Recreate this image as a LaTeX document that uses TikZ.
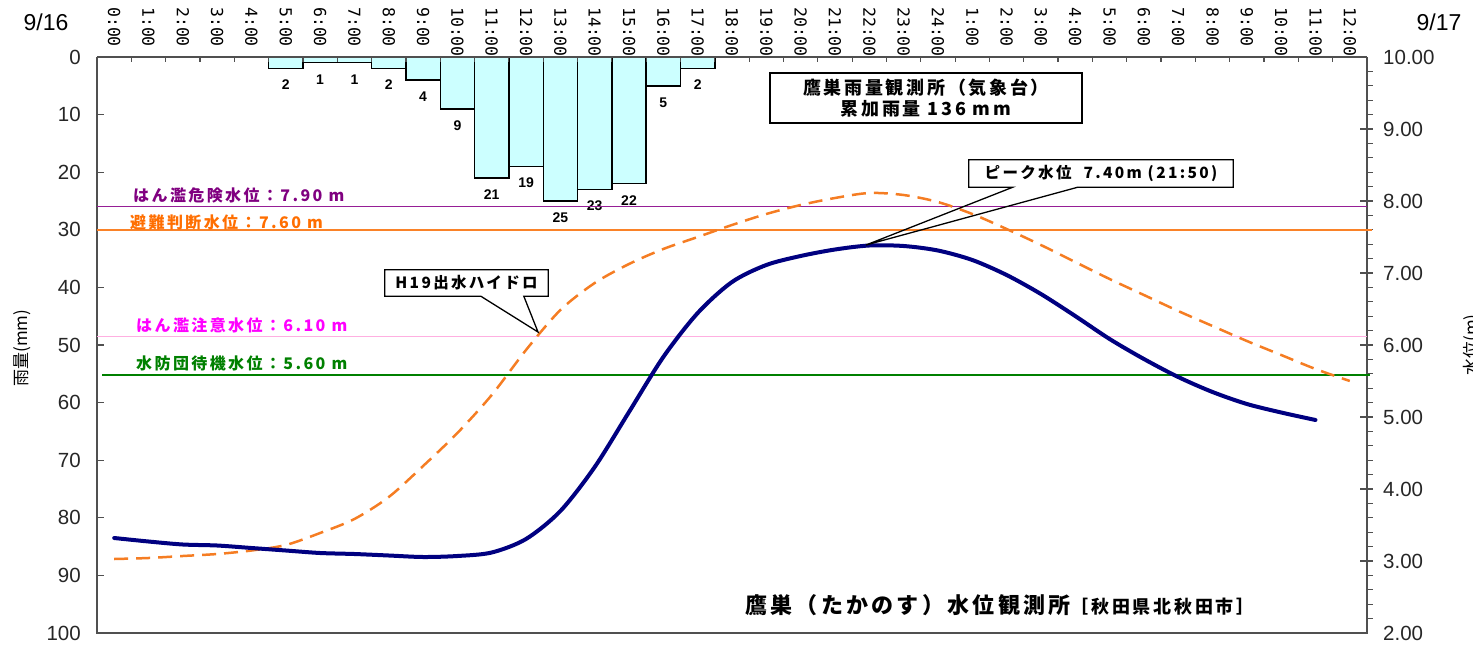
\documentclass[tikz,border=0pt]{standalone}
\usepackage{fontspec}
\setmainfont{Liberation Sans}
\newfontfamily\jp{Noto Sans CJK JP}[LetterSpace=15]
\newfontfamily\jpn{Noto Sans CJK JP}
\newfontfamily\hourfont{DejaVu Sans Mono}
\usetikzlibrary{calc}
\definecolor{navyline}{RGB}{0,0,128}
\definecolor{hydro}{RGB}{245,125,35}
\definecolor{barfill}{RGB}{204,255,255}
\definecolor{axisgray}{RGB}{80,80,80}
\definecolor{dangerline}{RGB}{150,30,150}
\definecolor{dangertext}{RGB}{128,0,128}
\definecolor{evacline}{RGB}{250,130,40}
\definecolor{evactext}{RGB}{255,110,0}
\definecolor{cautline}{RGB}{255,175,225}
\definecolor{cauttext}{RGB}{255,0,255}
\definecolor{standc}{RGB}{0,128,0}
\begin{document}
\begin{tikzpicture}[x=1pt,y=-1pt,
  axisline/.style={draw=axisgray, line width=1.4pt},
  tick/.style={draw=axisgray, line width=1.2pt},
  bar/.style={draw=black, line width=1.4pt, fill=barfill},
  barlbl/.style={font=\fontsize{14}{14}\selectfont\bfseries, inner sep=0},
  hourlbl/.style={font=\hourfont\fontsize{16.5}{17}\selectfont, rotate=-90, anchor=west, inner sep=0},
  numlbl/.style={font=\fontsize{20.5}{20.5}\selectfont, inner sep=0, text=black!85},
  lvlline/.style={line width=1.8pt},
  lvllbl/.style={font=\jp\bfseries\fontsize{16}{16}\selectfont, anchor=west, inner sep=0},
  calltext/.style={font=\jp\bfseries\fontsize{15.5}{15.5}\selectfont, inner sep=0},
  callout/.style={draw=black, line width=1.3pt, line join=miter},
  levelcurve/.style={draw=navyline, line width=4pt, line cap=round, line join=round},
  hydrocurve/.style={draw=hydro, line width=2.5pt, dash pattern=on 14pt off 8pt}
]
\useasboundingbox (0,0) rectangle (1473,645);

% date labels
\node[font=\fontsize{23}{23}\selectfont, inner sep=0] (d1) at (46,22) {9/16};
\node[font=\fontsize{23}{23}\selectfont, inner sep=0] (d2) at (1439,22) {9/17};

% hour labels
\foreach \i in {0,...,36} {
  \pgfmathtruncatemacro\h{\i>24 ? \i-24 : \i}
  \node[hourlbl] (h\i) at ({97+34.324*(\i+0.5)},7) {\h:00};
}

% bars
\foreach \i/\v in {5/2,6/1,7/1,8/2,9/4,10/9,11/21,12/19,13/25,14/23,15/22,16/5,17/2} {
  \draw[bar] ({97+34.324*\i},57) rectangle ({97+34.324*(\i+1)},{57+5.76*\v});
  \node[barlbl] (b\i) at ({97+34.324*(\i+0.5)},{57+5.76*\v+16.5}) {\v};
}

% axes
\draw[axisline] (97,57) -- (1367,57);
\draw[axisline] (97,57) -- (97,633) -- (1367,633) -- (1367,57);
\foreach \i in {1,...,36} \draw[tick] ({97+34.324*\i},57) -- ({97+34.324*\i},62);
\foreach \v in {10,20,...,90} \draw[tick] (97,{57+5.76*\v}) -- (104,{57+5.76*\v});
\foreach \v in {0,10,...,100} \node[numlbl, anchor=east] (ly\v) at (81,{57+5.76*\v}) {\v};
\foreach \v in {3,...,9} \draw[tick] (1360,{57+72*(10-\v)}) -- (1373,{57+72*(10-\v)});
\foreach \k in {1,...,39} {
  \pgfmathtruncatemacro\m{mod(\k,5)}
  \ifnum\m=0\else \draw[tick] (1367,{57+14.4*\k}) -- (1373,{57+14.4*\k}); \fi
}
\foreach \v in {2,...,10} \node[numlbl, anchor=west] (ry\v) at (1383,{57+72*(10-\v)}) {\v.00};

% axis titles
\node[font=\jpn\fontsize{17}{17}\selectfont, rotate=90, inner sep=0] (ylab1) at (22,348) {雨量(mm)};
\node[font=\jpn\fontsize{17}{17}\selectfont, rotate=90, inner sep=0] (ylab2) at (1472,345) {水位(m)};

% level lines
\draw[lvlline, draw=dangerline] (97,206.5) -- (1367,206.5);
\draw[lvlline, draw=evacline] (97,229.8) -- (1372,229.8);
\draw[lvlline, draw=cautline] (97,336.5) -- (1367,336.5);
\draw[lvlline, draw=standc] (102,375) -- (1370,375);
\node[lvllbl, text=dangertext] (l1) at (133,195) {はん濫危険水位：7.90 m};
\node[lvllbl, text=evactext] (l2) at (130,222) {避難判断水位：7.60 m};
\node[lvllbl, text=cauttext] (l3) at (136,325) {はん濫注意水位：6.10 m};
\node[lvllbl, text=standc] (l4) at (136,363) {水防団待機水位：5.60 m};

% H19 hydrograph
\draw[hydrocurve] plot[smooth] coordinates {
 (114.2,559) (148.5,558) (182.8,556) (217.1,554) (251.5,550.5) (285.8,545)
 (320.1,533) (354.4,519) (388.8,497) (423.1,466) (457.4,433) (491.7,395)
 (526.0,350) (560.4,310) (594.7,283) (629.0,264) (663.3,249) (697.7,237)
 (732.0,225) (766.3,214) (800.6,205) (835.0,198) (869.3,193) (903.6,195)
 (937.9,202) (972.3,214) (1006.6,229) (1040.9,245) (1075.2,262) (1109.6,279)
 (1143.9,295) (1178.2,311) (1212.5,326) (1246.9,341) (1281.2,355) (1315.5,369)
 (1349.8,381)};

% water level
\draw[levelcurve] plot[smooth] coordinates {
 (114.2,538) (148.5,541.5) (182.8,544.5) (217.1,545.5) (251.5,548) (285.8,550.5)
 (320.1,553) (354.4,554) (388.8,555.5) (423.1,557) (457.4,556) (491.7,552.5)
 (526.0,539) (560.4,511) (594.7,467) (629.0,412) (663.3,357) (697.7,313)
 (732.0,282) (766.3,265) (800.6,256) (835.0,249.5) (869.3,245.5) (903.6,246)
 (937.9,250.5) (972.3,260) (1006.6,275) (1040.9,294) (1075.2,316) (1109.6,339)
 (1143.9,359) (1178.2,377) (1212.5,392) (1246.9,404) (1281.2,412.5) (1315.5,420)};

% rain box
\node[draw=black, line width=1.4pt, fill=white, minimum width=312, minimum height=50,
      align=center, font=\jp\bfseries\fontsize{18}{21}\selectfont, inner sep=0] (rain) at (926,98)
      {鷹巣雨量観測所（気象台）\\累加雨量 136 mm};

% peak callout
\node[calltext, minimum width=264, minimum height=27] (pk) at (1101,173.5) {ピーク水位\hspace{12pt}7.40m (21:50)};
\coordinate (pktip) at (866,245);
\coordinate (pkb1) at ($(pk.south west)+(44,0)$);
\coordinate (pkb2) at ($(pk.south west)+(109,0)$);
\draw[callout] (pkb1) -- (pk.south west) -- (pk.north west) -- (pk.north east) -- (pk.south east) -- (pkb2) -- (pktip) -- cycle;

% H19 callout
\node[calltext, minimum width=163, minimum height=26] (hy) at (466.5,283) {H19出水ハイドロ};
\coordinate (hytip) at (538,332);
\coordinate (hyb1) at ($(hy.south west)+(96,0)$);
\coordinate (hyb2) at ($(hy.south west)+(139,0)$);
\draw[callout] (hyb1) -- (hy.south west) -- (hy.north west) -- (hy.north east) -- (hy.south east) -- (hyb2) -- (hytip) -- cycle;

% title
\node[anchor=west, inner sep=0] (title) at (745,605)
  {\jp\bfseries\fontsize{22}{22}\selectfont 鷹巣（たかのす）水位観測所\fontsize{18}{18}\selectfont［秋田県北秋田市］};
\end{tikzpicture}
\end{document}
